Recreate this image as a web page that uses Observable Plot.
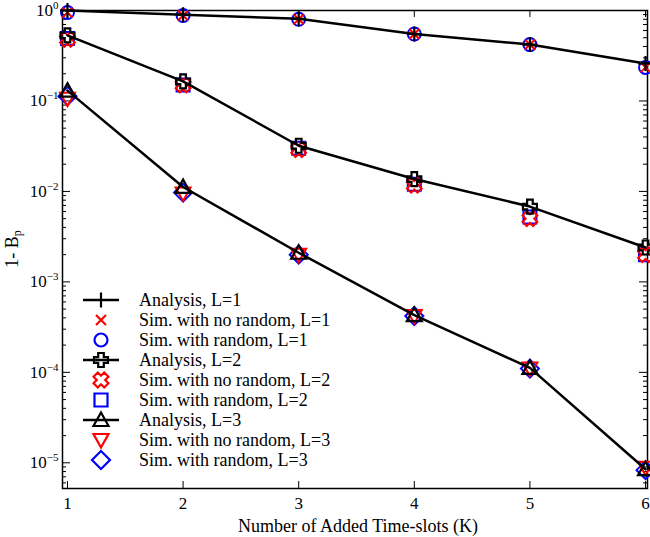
<!DOCTYPE html>
<html><head><meta charset="utf-8">
<script src="https://cdn.jsdelivr.net/npm/d3@7"></script>
<script src="https://cdn.jsdelivr.net/npm/@observablehq/plot@0.6"></script>
<style>
body{margin:0;background:#fff;}
#chart{width:650px;height:537px;}
</style></head><body><div id="chart"></div>
<script>
// ---- data ----
const K = [1, 2, 3, 4, 5, 6];
const anaL1       = [1.0, 0.90, 0.81, 0.55, 0.42, 0.26];
const simNoRandL1 = [0.95, 0.88, 0.80, 0.55, 0.42, 0.235];
const simRandL1   = [0.95, 0.88, 0.80, 0.55, 0.42, 0.235];
const anaL2       = [0.53, 0.165, 0.032, 0.0137, 0.0068, 0.0024];
const simNoRandL2 = [0.48, 0.15, 0.029, 0.0117, 0.0050, 0.0020];
const simRandL2   = [0.49, 0.15, 0.030, 0.0120, 0.0052, 0.0020];
const anaL3       = [0.13, 0.0112, 0.0021, 0.00043, 0.000112, 0.0000085];
const simNoRandL3 = [0.106, 0.0095, 0.0020, 0.00042, 0.00011, 0.0000088];
const simRandL3   = [0.113, 0.0097, 0.0020, 0.00042, 0.00011, 0.0000083];
const yTickValues = [1, 1e-1, 1e-2, 1e-3, 1e-4, 1e-5];
const xTickValues = [1, 2, 3, 4, 5, 6];
const seriesLabels = [
  "Analysis, L=1", "Sim. with no random, L=1", "Sim. with random, L=1",
  "Analysis, L=2", "Sim. with no random, L=2", "Sim. with random, L=2",
  "Analysis, L=3", "Sim. with no random, L=3", "Sim. with random, L=3"
];
const xLabel = "Number of Added Time-slots (K)";

// ---- symbols ----
const rOf = s => Math.sqrt(s / Math.PI);
function poly(c, pts){ c.moveTo(pts[0][0], pts[0][1]); for (let i = 1; i < pts.length; i++) c.lineTo(pts[i][0], pts[i][1]); c.closePath(); }
function crossPts(r){ const a = r * 0.4; return [[-a,-r],[a,-r],[a,-a],[r,-a],[r,a],[a,a],[a,r],[-a,r],[-a,a],[-r,a],[-r,-a],[-a,-a]]; }
const rot45 = ([x, y]) => [(x - y) * Math.SQRT1_2, (x + y) * Math.SQRT1_2];
const sym = {
  plus:   {draw(c, s){ const r = rOf(s); c.moveTo(-r,0); c.lineTo(r,0); c.moveTo(0,-r); c.lineTo(0,r); }},
  times:  {draw(c, s){ const r = rOf(s); c.moveTo(-r,-r); c.lineTo(r,r); c.moveTo(-r,r); c.lineTo(r,-r); }},
  circle: {draw(c, s){ const r = rOf(s); c.moveTo(r,0); c.arc(0,0,r,0,2*Math.PI); c.closePath(); }},
  cross:  {draw(c, s){ poly(c, crossPts(rOf(s))); }},
  xcross: {draw(c, s){ poly(c, crossPts(rOf(s)).map(rot45)); }},
  square: {draw(c, s){ const r = rOf(s); poly(c, [[-r,-r],[r,-r],[r,r],[-r,r]]); }},
  triUp:  {draw(c, s){ const r = rOf(s); poly(c, [[0,-r],[r,0.8*r],[-r,0.8*r]]); }},
  triDown:{draw(c, s){ const r = rOf(s); poly(c, [[0,r],[r,-0.8*r],[-r,-0.8*r]]); }},
  diamond:{draw(c, s){ const r = rOf(s); poly(c, [[0,-r],[r,0],[0,r],[-r,0]]); }}
};

const series = [
  {label: seriesLabels[0], values: anaL1,       color: "#000", symbol: sym.plus,    r: 7.5, line: true},
  {label: seriesLabels[1], values: simNoRandL1, color: "#f00", symbol: sym.times,   r: 5,   line: false},
  {label: seriesLabels[2], values: simRandL1,   color: "#00f", symbol: sym.circle,  r: 6.5, line: false},
  {label: seriesLabels[3], values: anaL2,       color: "#000", symbol: sym.cross,   r: 7,   line: true},
  {label: seriesLabels[4], values: simNoRandL2, color: "#f00", symbol: sym.xcross,  r: 7.5, line: false},
  {label: seriesLabels[5], values: simRandL2,   color: "#00f", symbol: sym.square,  r: 6.5, line: false},
  {label: seriesLabels[6], values: anaL3,       color: "#000", symbol: sym.triUp,   r: 7.5, line: true},
  {label: seriesLabels[7], values: simNoRandL3, color: "#f00", symbol: sym.triDown, r: 7.5, line: false},
  {label: seriesLabels[8], values: simRandL3,   color: "#00f", symbol: sym.diamond, r: 9,   line: false}
];
const rows = s => K.map((k, i) => ({k, v: s.values[i]}));

// ---- layout ----
const W = 650, H = 537, mL = 62, mR = 3, mT = 10, mB = 49;
const pW = W - mL - mR, pH = H - mT - mB;
const yMinor = [];
for (let e = -6; e <= -1; e++) for (let m = 2; m <= 9; m++) { const v = m * Math.pow(10, e); if (v >= 5.2e-6 && v < 1) yMinor.push(v); }

const marks = [
  Plot.frame({stroke: "black", strokeWidth: 1.5}),
  // inward ticks
  Plot.tickY(yTickValues, {y: d => d, insetRight: pW - 8, stroke: "black"}),
  Plot.tickY(yMinor, {y: d => d, insetRight: pW - 4, stroke: "black"}),
  Plot.tickY(yTickValues, {y: d => d, insetLeft: pW - 8, stroke: "black"}),
  Plot.tickY(yMinor, {y: d => d, insetLeft: pW - 4, stroke: "black"}),
  Plot.tickX(xTickValues, {x: d => d, insetTop: pH - 7, stroke: "black"}),
  Plot.tickX(xTickValues, {x: d => d, insetBottom: pH - 7, stroke: "black"}),
  Plot.axisY({ticks: yTickValues, tickFormat: d => String(Math.round(Math.log10(d))), tickSize: 0, tickPadding: 4, fontSize: 17, label: null}),
  Plot.axisX({ticks: xTickValues, tickFormat: d => String(d), tickSize: 0, tickPadding: 8, fontSize: 17, label: null})
];
for (const idx of [2, 5, 8, 1, 4, 7]) {
  const s = series[idx];
  marks.push(Plot.dot(rows(s), {x: "k", y: "v", symbol: s.symbol, r: s.r, stroke: s.color, strokeWidth: 2, fill: "none"}));
}
for (const idx of [0, 3, 6]) {
  const s = series[idx];
  marks.push(Plot.line(rows(s), {x: "k", y: "v", stroke: "black", strokeWidth: 2.5}));
  marks.push(Plot.dot(rows(s), {x: "k", y: "v", symbol: s.symbol, r: s.r, stroke: s.color, strokeWidth: 2.2, fill: "none"}));
}

const chart = Plot.plot({
  width: W, height: H,
  marginLeft: mL, marginRight: mR, marginTop: mT, marginBottom: mB,
  style: {fontFamily: "'Liberation Serif', 'Times New Roman', serif", fontSize: "16px", color: "black", background: "white", overflow: "visible"},
  x: {domain: [0.957, 6.017], axis: null},
  y: {type: "log", domain: [5.2e-6, 1], axis: null},
  marks
});
document.getElementById("chart").appendChild(chart);

// ---- superscript y tick labels ----
const svg = d3.select(chart);
svg.selectAll('g[aria-label="y-axis tick label"] text').each(function(){
  const t = d3.select(this);
  const e = t.text().replace("-", "\u2212");
  t.text(null);
  t.append("tspan").text("10");
  t.append("tspan").attr("dy", "-7").attr("font-size", "11px").text(e);
});

// ---- axis titles ----
svg.append("text")
  .attr("transform", `translate(18,${mT + pH / 2}) rotate(-90)`)
  .attr("text-anchor", "middle").attr("font-size", 18).attr("fill", "black")
  .call(t => { t.append("tspan").text("1- B"); t.append("tspan").attr("font-size", 12).attr("dy", 3).text("p"); });
svg.append("text")
  .attr("x", 358).attr("y", 532)
  .attr("text-anchor", "middle").attr("font-size", 18).attr("fill", "black")
  .text(xLabel);

// ---- legend ----
const lg = svg.append("g").attr("aria-label", "legend");
series.forEach((s, i) => {
  const yy = 300 + i * 20;
  const g = lg.append("g");
  if (s.line) g.append("line").attr("x1", 83).attr("x2", 119).attr("y1", yy).attr("y2", yy).attr("stroke", "black").attr("stroke-width", 2.5);
  g.append("path")
    .attr("d", d3.symbol().type(s.symbol).size(s.r * s.r * Math.PI)())
    .attr("transform", `translate(101,${yy})`)
    .attr("fill", "none").attr("stroke", s.color).attr("stroke-width", 2.2);
  g.append("text").attr("x", 139).attr("y", yy + 6).attr("text-anchor", "start")
    .attr("font-size", 18).attr("fill", "black").text(s.label);
});
</script>
</body></html>
